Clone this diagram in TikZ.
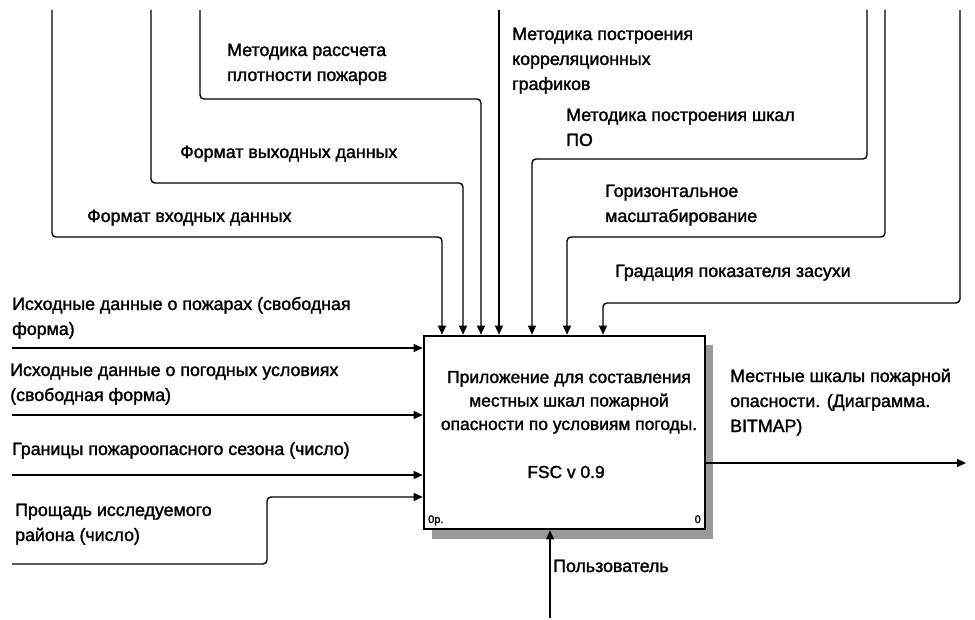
\documentclass[tikz,border=0pt]{standalone}
\usepackage{fontspec}
\setmainfont[FakeBold=1.6]{Liberation Sans}
\usetikzlibrary{arrows.meta}
\begin{document}
\begin{tikzpicture}[x=1pt,y=-1pt,
  lbl/.style={anchor=base west, inner sep=0pt, align=left, font=\fontsize{17.8}{25}\selectfont},
  boxtxt/.style={anchor=base, inner sep=0pt, align=center, font=\fontsize{17.4}{23.5}\selectfont},
  small/.style={inner sep=0pt, font=\fontsize{11}{12}\selectfont},
  conn/.style={line width=1.4pt, rounded corners=4pt, -{Triangle[length=9pt,width=8pt]}},
  actbox/.style={draw, fill=white, line width=2.6pt, minimum width=281pt, minimum height=193pt, inner sep=0pt},
  shadowfill/.style={fill=black!40}]
\useasboundingbox (0,0) rectangle (975,620);
% shadow and box
\fill[shadowfill] (432,345) rectangle (713,539);
\node[actbox] (box) at (564.5,432.5) {};
\node[boxtxt] (title) at (569,430) {Приложение для составления\\местных шкал пожарной\\опасности по условиям погоды.};
\node[boxtxt] (ver) at (566,478) {FSC v 0.9};
\node[small, anchor=base west] (nodeid) at (428,523) {0р.};
\node[small, anchor=base east] (nodenum) at (701,523) {0};
% control free ends and knees
\coordinate (c1s) at (52,10);   \coordinate (c1k) at (442,237);
\coordinate (c2s) at (151,10);  \coordinate (c2k) at (463,183);
\coordinate (c3s) at (200,10);  \coordinate (c3k) at (481,99);
\coordinate (c4s) at (499,10);
\coordinate (c5s) at (867,10);  \coordinate (c5k) at (532,159);
\coordinate (c6s) at (885,10);  \coordinate (c6k) at (567,237);
\coordinate (c7s) at (960,10);  \coordinate (c7k) at (603,303);
\draw[conn] (c1s) |- (c1k) -- (c1k |- box.north);
\draw[conn] (c2s) |- (c2k) -- (c2k |- box.north);
\draw[conn] (c3s) |- (c3k) -- (c3k |- box.north);
\draw[conn] (c4s) -- (c4s |- box.north);
\draw[conn] (c5s) |- (c5k) -- (c5k |- box.north);
\draw[conn] (c6s) |- (c6k) -- (c6k |- box.north);
\draw[conn] (c7s) |- (c7k) -- (c7k |- box.north);
% inputs
\coordinate (i1) at (12,348);
\coordinate (i2) at (12,415);
\coordinate (i3) at (12,475);
\coordinate (i4) at (12,564); \coordinate (i4k) at (267,497);
\draw[conn] (i1) -- (i1 -| box.west);
\draw[conn] (i2) -- (i2 -| box.west);
\draw[conn] (i3) -- (i3 -| box.west);
\draw[conn] (i4) -| (i4k) -- (i4k -| box.west);
% output
\coordinate (o1) at (966,463);
\draw[conn] (o1 -| box.east) -- (o1);
% mechanism
\coordinate (m1) at (550,618);
\draw[conn] (m1) -- (m1 |- box.south);
% labels (anchored at the baseline of their last line)
\node[lbl] (l3) at (227,81) {Методика рассчета\\плотности пожаров};
\node[lbl] (l2) at (180,158) {Формат выходных данных};
\node[lbl] (l1) at (87,222) {Формат входных данных};
\node[lbl] (l4) at (512,90) {Методика построения\\корреляционных\\графиков};
\node[lbl] (l5) at (566,146) {Методика построения шкал\\ПО};
\node[lbl] (l6) at (605,222) {Горизонтальное\\масштабирование};
\node[lbl] (l7) at (615,277) {Градация показателя засухи};
\node[lbl] (li1) at (12,335) {Исходные данные о пожарах (свободная\\форма)};
\node[lbl] (li2) at (10,401) {Исходные данные о погодных условиях\\(свободная форма)};
\node[lbl] (li3) at (12,455) {Границы пожароопасного сезона (число)};
\node[lbl] (li4) at (15,541) {Прощадь исследуемого\\района (число)};
\node[lbl] (lo1) at (730,432) {Местные шкалы пожарной\\опасности. (Диаграмма.\\BITMAP)};
\node[lbl] (lm1) at (553,572) {Пользователь};
\end{tikzpicture}
\end{document}
